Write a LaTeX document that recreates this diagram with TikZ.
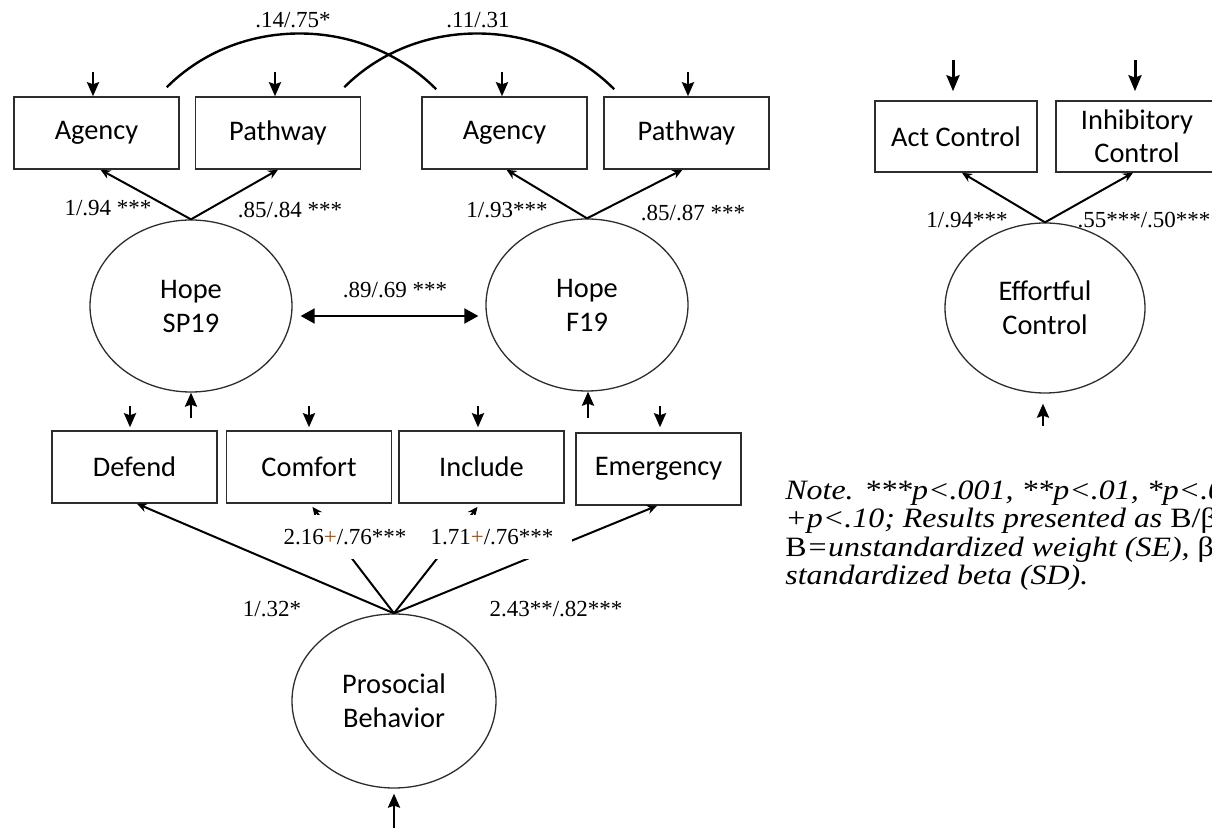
\documentclass[tikz,border=0pt]{standalone}
\usepackage{graphicx}
\usepackage{fontspec}
\setmainfont{Liberation Serif}
\newfontfamily\calib{Carlito}
\usetikzlibrary{arrows.meta,shapes.geometric,calc}
\definecolor{boxline}{RGB}{45,45,45}
\definecolor{plusc}{RGB}{150,85,30}
\newcommand{\notestretch}[1]{\scalebox{1.14}[1]{#1}}
\begin{document}
\begin{tikzpicture}[x=0.5pt,y=-0.5pt,
 obs/.style={draw=boxline, line width=0.75pt, rectangle, minimum width=82.5pt, minimum height=36pt, inner sep=0pt, font=\calib\fontsize{14.2pt}{16.5pt}\selectfont, align=center},
 lat/.style={draw=boxline, line width=0.65pt, ellipse, minimum width=101pt, minimum height=86pt, inner sep=0pt, font=\calib\fontsize{14.2pt}{17pt}\selectfont, align=center},
 lbl/.style={font=\fontsize{11.5pt}{13pt}\selectfont, inner sep=0pt},
 load/.style={line width=1pt, -{Stealth[length=5pt,width=4.5pt]}},
 err/.style={line width=1.25pt, -{Stealth[length=7pt,width=6pt,inset=1pt]}},
 errbig/.style={line width=1.5pt, -{Stealth[length=8pt,width=6.5pt,inset=1.2pt]}},
 cov/.style={line width=1.2pt},
 dbl/.style={line width=1pt, {Triangle[length=7pt,width=7.5pt]}-{Triangle[length=7pt,width=7.5pt]}},
 notetext/.style={anchor=base west, inner sep=0pt, font=\fontsize{14pt}{15pt}\selectfont}
]
\useasboundingbox (0,0) rectangle (1212,828);

% observed indicators
\node[obs] (A1) at (96.5,133) {Agency};
\node[obs] (P1) at (278,133) {Pathway};
\node[obs] (A2) at (504.5,133) {Agency};
\node[obs] (P2) at (686.5,133) {Pathway};
\node[obs] (Def) at (134.5,467) {Defend};
\node[obs] (Com) at (309,467) {Comfort};
\node[obs] (Inc) at (481.5,467) {Include};
\node[obs] (Eme) at (658.5,469) {Emergency};
\node[obs, minimum width=81pt, minimum height=35.5pt] (Act) at (956,136.5) {Act Control};
\begin{scope}
\clip (0,0) rectangle (1212,828);
\node[obs, minimum width=81pt, minimum height=35.5pt] (Inh) at (1137,136.5) {Inhibitory\\Control};
\end{scope}

% latent variables
\node[lat] (H1) at (191,306) {Hope\\SP19};
\node[lat] (H2) at (587,305) {Hope\\F19};
\node[lat, minimum width=102pt, minimum height=87pt] (PB) at (394,701) {Prosocial\\Behavior};
\node[lat, minimum width=100pt, minimum height=85pt] (EC) at (1045,308) {Effortful\\Control};

% error arrows
\coordinate (eA1) at (93,72);
\coordinate (eP1) at (275,72);
\coordinate (eA2) at (502,72);
\coordinate (eP2) at (688,72);
\draw[err] (eA1) -- (eA1 |- A1.north);
\draw[err] (eP1) -- (eP1 |- P1.north);
\draw[err] (eA2) -- (eA2 |- A2.north);
\draw[err] (eP2) -- (eP2 |- P2.north);
\coordinate (eDef) at (130,406);
\coordinate (eCom) at (309,406);
\coordinate (eInc) at (478,406);
\coordinate (eEme) at (660,406);
\draw[err, shorten >=1.5pt] (eDef) -- (eDef |- Def.north);
\draw[err, shorten >=1.5pt] (eCom) -- (eCom |- Com.north);
\draw[err, shorten >=1.5pt] (eInc) -- (eInc |- Inc.north);
\draw[err, shorten >=2.5pt] (eEme) -- (eEme |- Eme.north);
\coordinate (eH1) at (191,418);
\coordinate (eH2) at (588,418);
\draw[err] (eH1) -- (H1.south);
\draw[err] (eH2) -- (eH2 |- H2.south);
\coordinate (ePB) at (394,828);
\draw[err, shorten >=2.5pt] (ePB) -- (PB.south);
\coordinate (eEC) at (1043,426);
\draw[err, shorten >=5pt] (eEC) -- (eEC |- EC.south);
\coordinate (eAct) at (953,60);
\coordinate (eInh) at (1135,60);
\draw[errbig, shorten >=4.5pt] (eAct) -- (eAct |- Act.north);
\draw[errbig, shorten >=4.5pt] (eInh) -- (eInh |- Inh.north);

% covariance arcs
\draw[cov] ($(A1.north east)+(-13,-9)$) .. controls ($(A1.north east)+(60,-82)$) and ($(A2.north west)+(-58,-80)$) .. ($(A2.north west)+(15,-7)$);
\draw[cov] ($(P1.north east)+(-17,-9)$) .. controls ($(P1.north east)+(56,-82)$) and ($(P2.north west)+(-62,-80)$) .. ($(P2.north west)+(11,-7)$);

% loadings
\draw[load] (H1.north) -- ([xshift=2pt]A1.south);
\draw[load] (H1.north) -- (P1.south);
\draw[load] (H2.north) -- ([xshift=1pt]A2.south);
\draw[load] (H2.north) -- ([xshift=-2pt]P2.south);
\draw[load] (EC.north) -- ([xshift=3pt]Act.south);
\draw[load] (EC.north) -- ([xshift=-2pt]Inh.south);
\draw[load, shorten >=2pt] (PB.north) -- ([xshift=0.5pt]Com.south);
\draw[load, shorten >=2pt] (PB.north) -- ([xshift=-0.75pt]Inc.south);
\draw[load] (PB.north) -- ([xshift=-0.75pt]Eme.south);
\node[fill=white, minimum width=152.5pt, minimum height=22pt, inner sep=0pt] (mask) at (419.5,537) {};
\draw[load] (PB.north) -- ([xshift=1.25pt]Def.south);

% correlation
\draw[dbl] ([xshift=4pt,yshift=-5pt]H1.east) -- ([xshift=-3.5pt,yshift=-5.5pt]H2.west);

% labels
\node[lbl] (l1) at (293,20) {.14/.75*};
\node[lbl] (l2) at (478,20) {.11/.31};
\node[lbl] (l3) at (108,208) {1/.94 ***};
\node[lbl] (l4) at (290,210) {.85/.84 ***};
\node[lbl] (l5) at (507,210) {1/.93***};
\node[lbl] (l6) at (693,213) {.85/.87 ***};
\node[lbl] (l7) at (395,290) {.89/.69 ***};
\node[lbl] (l8) at (967,220) {1/.94***};
\node[lbl] (l9) at (1144,220) {.55***/.50***};
\node[lbl] (l10) at (345,537) {2.16\textcolor{plusc}{+}/.76***};
\node[lbl] (l11) at (492,537) {1.71\textcolor{plusc}{+}/.76***};
\node[lbl] (l12) at (272,609) {1/.32*};
\node[lbl] (l13) at (556,609) {2.43**/.82***};

% note
\begin{scope}
\clip (0,0) rectangle (1212,828);
\node[notetext] (n1) at (785,500) {\notestretch{\itshape Note. ***p<.001, **p<.01, *p<.05,}};
\node[notetext] (n2) at (785,528) {\notestretch{\itshape +p<.10; Results presented as\/ \upshape B/β}};
\node[notetext] (n3) at (785,557) {\notestretch{B\itshape =unstandardized weight (SE),\/ \upshape β=}};
\node[notetext] (n4) at (785,585) {\notestretch{\itshape standardized beta (SD).}};
\end{scope}
\end{tikzpicture}
\end{document}
